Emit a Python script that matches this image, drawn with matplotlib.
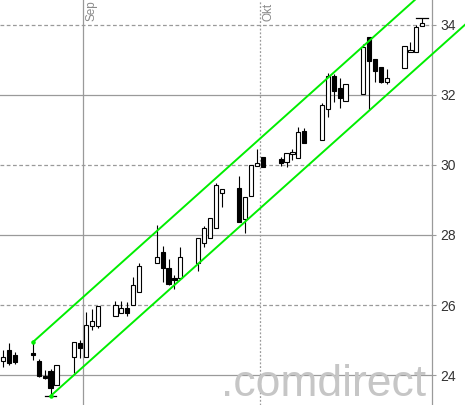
import numpy as np
import pandas as pd
import matplotlib
matplotlib.use('Agg')
import matplotlib.pyplot as plt
import matplotlib.dates as mdates
from matplotlib.patches import Rectangle

# daily candles, Aug 18 - Oct 28 2010
dates = pd.bdate_range('2010-08-18', '2010-10-28')
opens = [24.40, 24.71, 24.57, 24.63, 24.40, 23.97, 24.11, 23.71, 24.51, 24.91,
         24.51, 25.40, 25.40, 25.69, 25.77, 25.91, 26.00, 26.37, 27.20, 27.51,
         27.06, 26.77, 26.77, 27.20, 27.77, 27.91, 28.20, 29.20, 29.34, 28.46,
         29.11, 29.97, 30.23, 30.17, 30.09, 30.31, 30.20, 30.97, 30.71, 31.60,
         32.54, 32.20, 31.83, 32.03, 33.66, 33.03, 32.80, 32.37, 32.77, 33.23,
         33.23, 33.97]
highs = [24.71, 24.91, 24.66, 24.94, 24.46, 24.14, 24.17, 24.29, 24.94, 25.00,
         25.80, 25.89, 25.97, 26.11, 26.11, 26.09, 26.80, 27.20, 28.29, 27.69,
         27.31, 26.86, 27.66, 27.91, 28.26, 28.49, 29.49, 29.31, 29.69, 29.09,
         30.00, 30.46, 30.23, 30.23, 30.34, 30.46, 31.09, 31.06, 31.77, 32.63,
         32.60, 32.49, 32.31, 33.46, 33.66, 33.03, 32.80, 32.74, 33.40, 33.51,
         34.00, 34.20]
lows = [24.23, 24.29, 24.31, 24.43, 23.94, 23.88, 23.40, 23.71, 24.06, 24.49,
        24.51, 25.29, 25.34, 25.69, 25.77, 25.69, 26.00, 26.37, 27.20, 26.66,
        26.57, 26.46, 26.77, 26.97, 27.66, 27.91, 28.20, 28.80, 28.37, 28.06,
        29.11, 29.97, 29.94, 29.97, 29.94, 30.14, 30.20, 30.63, 30.71, 31.37,
        31.80, 31.63, 31.83, 32.03, 31.57, 32.37, 32.34, 32.31, 32.77, 33.23,
        33.23, 33.97]
closes = [24.51, 24.34, 24.37, 24.57, 23.97, 23.91, 23.63, 24.29, 24.94, 24.77,
          25.43, 25.54, 25.97, 26.00, 25.91, 25.77, 26.57, 27.11, 27.37, 27.06,
          26.60, 26.71, 27.37, 27.91, 28.20, 28.49, 29.43, 29.31, 28.37, 29.09,
          30.00, 30.06, 29.94, 30.06, 30.34, 30.37, 30.94, 30.63, 31.71, 32.54,
          32.11, 31.91, 32.31, 33.37, 32.97, 32.69, 32.37, 32.49, 33.40, 33.29,
          33.94, 34.06]

# trend channel (start point + slope per day)
upper_start = ('2010-08-23', 24.94)
lower_start = ('2010-08-26', 23.40)
channel_slope = 0.151
channel_end = '2010-11-06'

yticks = [24, 26, 28, 30, 32, 34]
month_lines = ['2010-09-01', '2010-10-01']
month_labels = ['Sep', 'Okt']

plt.rcParams['font.family'] = ['Liberation Sans', 'DejaVu Sans']

fig = plt.figure(figsize=(4.65, 4.05), dpi=100)
ax = fig.add_axes([0, 0, 432 / 465, 1])

sep1 = mdates.date2num(pd.Timestamp('2010-09-01'))
ax.set_xlim(sep1 - 14.07, sep1 + 59.15)
ax.set_ylim(23.143, 34.714)

# grid
for y in yticks:
    ls = '-' if y % 4 == 0 else (0, (3, 2))
    ax.axhline(y, color='#9a9a9a', lw=0.9, ls=ls, zorder=1)
for d, ls in zip(month_lines, ['-', (0, (1.5, 1.5))]):
    ax.axvline(mdates.date2num(pd.Timestamp(d)), color='#9a9a9a', lw=0.9, ls=ls, zorder=1)
for d, lab in zip(month_lines, month_labels):
    ax.annotate(lab, xy=(mdates.date2num(pd.Timestamp(d)), 1), xycoords=('data', 'axes fraction'),
                xytext=(2, -15), textcoords='offset points', rotation=90,
                ha='left', va='bottom', fontsize=8.5, color='#8a8a8a', annotation_clip=False)

# watermark
ax.text(426 / 432, 9 / 405, '.comdirect', transform=ax.transAxes, ha='right', va='baseline',
        fontsize=32, color='#c6c6c6', zorder=1.5)

# candles
w = 0.7
for dt, o, h, l, c in zip(dates, opens, highs, lows, closes):
    x = mdates.date2num(dt) + 0.5
    ax.plot([x, x], [l, h], color='black', lw=0.8, zorder=3, solid_capstyle='butt')
    bottom = min(o, c)
    height = max(abs(c - o), 0.03)
    face = 'white' if c >= o else 'black'
    ax.add_patch(Rectangle((x - w / 2, bottom), w, height, facecolor=face,
                           edgecolor='black', lw=0.8, zorder=4))

# period high / low markers
i_hi = int(np.argmax(highs))
i_lo = int(np.argmin(lows))
for i, v in [(i_hi, highs[i_hi]), (i_lo, lows[i_lo])]:
    x = mdates.date2num(dates[i]) + 0.5
    ax.plot([x - 1.0, x + 1.0], [v, v], color='black', lw=0.9, zorder=4)

# channel
x_end = mdates.date2num(pd.Timestamp(channel_end))
for d0, p0 in [upper_start, lower_start]:
    x0 = mdates.date2num(pd.Timestamp(d0)) + 0.5
    ax.plot([x0, x_end], [p0, p0 + channel_slope * (x_end - x0)], color='#00ee00',
            lw=1.4, zorder=5, clip_on=False)
    ax.plot([x0], [p0], 'o', color='#00ee00', ms=2.2, zorder=5)

# axes styling
for s in ['left', 'top', 'bottom']:
    ax.spines[s].set_visible(False)
ax.spines['right'].set_color('#9a9a9a')
ax.spines['right'].set_linewidth(0.9)
ax.set_xticks([])
ax.yaxis.tick_right()
ax.set_yticks(yticks)
ax.set_yticklabels([str(y) for y in yticks])
ax.tick_params(axis='y', length=3, width=0.8, color='#9a9a9a', labelsize=10,
               labelcolor='#333333', pad=3)

fig.savefig('out.png', dpi=100)
